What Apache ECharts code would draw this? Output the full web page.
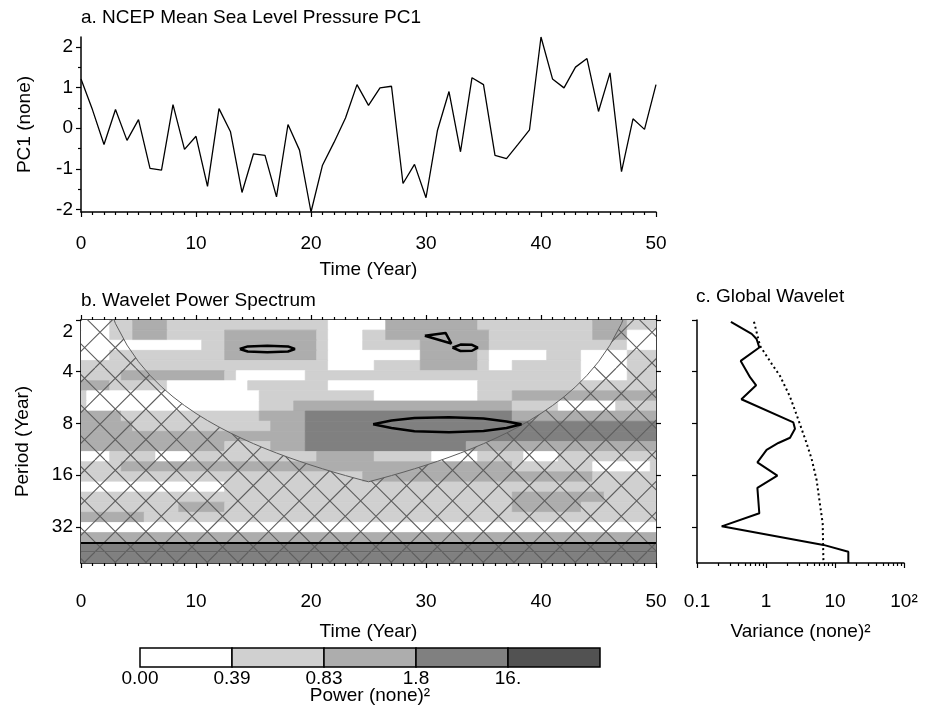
<!DOCTYPE html>
<html>
<head>
<meta charset="utf-8">
<script src="https://cdn.jsdelivr.net/npm/echarts@6/dist/echarts.min.js"></script>
<style>
  html, body { margin: 0; background: #fff; }
  #chart { width: 926px; height: 715px; }
</style>
</head>
<body>
<div id="chart"></div>
<script>
// ---- panel a: PC1 time series (year 0..50)
const pc1 = [1.21, 0.45, -0.40, 0.46, -0.30, 0.21, -0.99, -1.03, 0.58, -0.52,
  -0.20, -1.43, 0.48, -0.09, -1.58, -0.63, -0.67, -1.69, 0.09, -0.54,
  -2.06, -0.91, -0.35, 0.25, 1.07, 0.56, 0.99, 1.03, -1.36, -0.89,
  -1.71, -0.05, 0.90, -0.58, 1.24, 1.07, -0.67, -0.75, -0.40, -0.04,
  2.24, 1.21, 0.99, 1.50, 1.71, 0.41, 1.36, -1.07, 0.23, -0.03, 1.07];
const pc1Ticks = [-2, -1, 0, 1, 2];
const pc1MinorTicks = [-1.5, -0.5, 0.5, 1.5];

// ---- panel b: wavelet power, shaded level per cell
// period band edges (rows, top to bottom)
const periodEdges = [2, 2.291, 2.624, 3.005, 3.442, 3.943, 4.516, 5.172, 5.924, 6.786,
  7.772, 8.902, 10.20, 11.68, 13.38, 15.32, 17.55, 20.10, 23.02, 26.37,
  30.20, 34.59, 39.62, 45.38, 51.98];
// each row: runs of [level, number of years] starting at year 0
const powerRuns = [
  [[0,3],[1,2],[2,3],[1,14],[0,5],[2,8],[1,10],[2,3],[1,3]],
  [[0,3],[1,2],[2,3],[1,5],[2,8],[1,1],[0,3],[1,2],[2,9],[1,9],[2,3],[0,3]],
  [[0,11],[1,2],[2,8],[1,1],[0,3],[1,5],[2,6],[1,12],[0,3]],
  [[0,3],[1,10],[2,8],[1,1],[0,8],[2,5],[1,1],[0,5],[1,3],[0,4],[1,3]],
  [[1,22],[0,4],[1,4],[2,5],[1,1],[0,2],[1,6],[0,4],[1,3]],
  [[1,4],[2,9],[1,1],[0,6],[1,24],[0,4],[1,3]],
  [[2,3],[1,5],[0,7],[1,7],[0,13],[1,16]],
  [[1,1],[0,15],[1,10],[0,9],[1,3],[2,13]],
  [[1,1],[0,15],[1,3],[2,19],[1,4],[0,5],[1,4]],
  [[2,4],[1,12],[2,4],[3,18],[2,13]],
  [[2,5],[1,12],[2,3],[3,31]],
  [[2,20],[3,31]],
  [[2,13],[1,4],[2,3],[3,14],[2,17]],
  [[0,3],[1,4],[0,3],[1,11],[2,5],[1,5],[0,4],[1,4],[0,3],[1,9]],
  [[1,4],[2,34],[1,7],[0,5],[1,1]],
  [[1,25],[2,20],[1,6]],
  [[0,13],[1,38]],
  [[1,38],[2,8],[1,5]],
  [[1,9],[2,4],[1,25],[2,6],[1,7]],
  [[2,6],[1,45]],
  [[0,51]],
  [[2,51]],
  [[3,51]],
  [[3,51]]
];
const levelColors = ['#ffffff', '#d0d0d0', '#adadad', '#808080', '#525252'];
const levelLabels = ['0.00', '0.39', '0.83', '1.8', '16.', ''];

// cone of influence, period for each year 0..50
const coiPeriod = [0.35, 0.7, 1.4, 2.1, 2.8, 3.5, 4.2, 4.9, 5.6, 6.3,
  7.0, 7.7, 8.4, 9.1, 9.8, 10.5, 11.2, 11.9, 12.6, 13.3,
  14.0, 14.7, 15.4, 16.1, 16.8, 17.5, 16.8, 16.1, 15.4, 14.7,
  14.0, 13.3, 12.6, 11.9, 11.2, 10.5, 9.8, 9.1, 8.4, 7.7,
  7.0, 6.3, 5.6, 4.9, 4.2, 3.5, 2.8, 2.1, 1.4, 0.7, 0.35];

// significance contours [year, period]
const contourA = [[13.8,2.95],[14.5,2.85],[16.2,2.82],[18,2.85],[18.6,2.95],[18,3.05],[16.2,3.08],[14.5,3.05],[13.8,2.95]];
const contourB = [[25.4,8.1],[27,7.7],[29,7.45],[32,7.37],[35,7.5],[37,7.8],[38.3,8.1],[37,8.5],[35,8.85],[32,9.0],[29,8.9],[27,8.5],[25.4,8.1]];
const contourC = [[29.9,2.47],[31.7,2.38],[32.2,2.74],[29.9,2.47]];
const contourD = [[32.3,2.9],[33,2.78],[34,2.79],[34.5,2.9],[34,3.02],[33,3.03],[32.3,2.9]];
const contourLow = [[0,39.8],[50,39.8]];
const contourLow2 = [[0,44.6],[50,44.6]];
const periodTicks = [2, 4, 8, 16, 32];

// ---- panel c: global wavelet spectrum [variance, period]
const globalWavelet = [[0.31,2.05],[0.62,2.41],[0.73,2.58],[0.80,2.89],[0.43,3.46],[0.59,4.32],
  [0.72,4.8],[0.44,5.79],[2.49,7.9],[2.63,8.6],[2.23,9.7],[1.51,10.4],[1.02,11.4],
  [0.75,13.5],[1.46,16.1],[0.75,19.0],[0.80,26.7],[0.228,31.8],[6.8,40.8],[15.6,44.7],[15.6,52]];
const globalSignif = [[0.67,2.05],[0.82,2.83],[1.21,3.6],[1.6,4.24],[2.23,5.6],[2.94,7.6],
  [3.8,10.2],[4.59,12.9],[5.43,17.2],[5.73,20.2],[6.63,30.6],[6.8,52]];
const varianceTicks = [0.1, 1, 10, 100];
const varianceMinorTicks = [0.2,0.3,0.4,0.5,0.6,0.7,0.8,0.9,2,3,4,5,6,7,8,9,20,30,40,50,60,70,80,90];

const FONT = "'Liberation Sans', Arial, Helvetica, sans-serif";
const FS = 19;

const cells = [];
powerRuns.forEach((runs, r) => {
  let t = 0;
  runs.forEach(([lvl, n]) => {
    cells.push([t - 0.5, t + n - 0.5, periodEdges[r], periodEdges[r + 1], lvl]);
    t += n;
  });
});

function hatchPattern() {
  const s = 92, d = s / 3;
  const c = document.createElement('canvas');
  c.width = s; c.height = s;
  const g = c.getContext('2d');
  g.strokeStyle = '#5e5e5e';
  g.lineWidth = 1.1;
  g.beginPath();
  for (let k = -7; k <= 7; k++) {
    const o = 13 + k * d;
    g.moveTo(o, 0); g.lineTo(o + s, s);
    const q = 2.9 + k * d;
    g.moveTo(q, 0); g.lineTo(q - s, s);
  }
  g.stroke();
  return c;
}

const tickStyle = { lineStyle: { color: '#000', width: 1.2 } };
const lineStyle = { onZero: false, lineStyle: { color: '#000', width: 1.5 } };
const labelBase = { color: '#000', fontSize: FS, fontFamily: FONT };
const nameBase = { color: '#000', fontSize: FS, fontFamily: FONT };

function contour(data, width, color) {
  return {
    type: 'line', xAxisIndex: 1, yAxisIndex: 2, data: data, symbol: 'none',
    lineStyle: { color: color || '#000', width: width }, clip: true, z: 5
  };
}

const chart = echarts.init(document.getElementById('chart'), null, { renderer: 'canvas' });
chart.setOption({
  animation: false,
  backgroundColor: '#fff',
  title: [
    { text: 'a. NCEP Mean Sea Level Pressure PC1', left: 81, top: 8, padding: 0,
      textStyle: { fontSize: FS, fontWeight: 'normal', color: '#000', fontFamily: FONT } },
    { text: 'b. Wavelet Power Spectrum', left: 81, top: 291, padding: 0,
      textStyle: { fontSize: FS, fontWeight: 'normal', color: '#000', fontFamily: FONT } },
    { text: 'c. Global Wavelet', left: 696, top: 287, padding: 0,
      textStyle: { fontSize: FS, fontWeight: 'normal', color: '#000', fontFamily: FONT } }
  ],
  grid: [
    { left: 81, top: 37, width: 575, height: 175, outerBoundsMode: 'none' },
    { left: 81, top: 320, width: 575, height: 243, outerBoundsMode: 'none' },
    { left: 697, top: 320, width: 207, height: 243, outerBoundsMode: 'none' },
    { left: 140, top: 648, width: 460, height: 19, outerBoundsMode: 'none' }
  ],
  xAxis: [
    { gridIndex: 0, type: 'value', position: 'bottom', min: 0, max: 50, interval: 10,
      axisLine: lineStyle, axisTick: Object.assign({ length: 5 }, tickStyle),
      minorTick: { show: true, splitNumber: 10, length: 3, lineStyle: { color: '#000', width: 1.2 } },
      splitLine: { show: false },
      axisLabel: Object.assign({ margin: 22 }, labelBase),
      name: 'Time (Year)', nameLocation: 'middle', nameGap: 48, nameTextStyle: nameBase, nameMoveOverlap: false },
    { gridIndex: 1, type: 'value', position: 'bottom', min: 0, max: 50, interval: 10,
      axisLine: lineStyle, axisTick: Object.assign({ length: 5 }, tickStyle),
      minorTick: { show: true, splitNumber: 10, length: 3, lineStyle: { color: '#000', width: 1.2 } },
      splitLine: { show: false },
      axisLabel: Object.assign({ margin: 29 }, labelBase),
      name: 'Time (Year)', nameLocation: 'middle', nameGap: 59, nameTextStyle: nameBase, nameMoveOverlap: false },
    { gridIndex: 1, type: 'value', position: 'top', min: 0, max: 50, interval: 10,
      axisLine: lineStyle, axisTick: Object.assign({ length: 5 }, tickStyle),
      minorTick: { show: true, splitNumber: 10, length: 3, lineStyle: { color: '#000', width: 1.2 } },
      splitLine: { show: false }, axisLabel: { show: false } },
    { gridIndex: 2, type: 'log', logBase: 10, position: 'bottom', min: 0.1, max: 100,
      axisLine: lineStyle,
      axisTick: Object.assign({ length: 5, customValues: varianceTicks }, tickStyle),
      splitLine: { show: false },
      axisLabel: Object.assign({ margin: 29, customValues: varianceTicks,
        formatter: v => (v >= 99 ? '10\u00b2' : (v < 0.5 ? '0.1' : String(Math.round(v)))) }, labelBase),
      name: 'Variance (none)\u00b2', nameLocation: 'middle', nameGap: 59, nameTextStyle: nameBase, nameMoveOverlap: false },
    { gridIndex: 2, type: 'log', logBase: 10, position: 'bottom', offset: 0, min: 0.1, max: 100,
      axisLine: { show: false, onZero: false },
      axisTick: Object.assign({ length: 3, customValues: varianceMinorTicks }, tickStyle),
      splitLine: { show: false }, axisLabel: { show: false } },
    { gridIndex: 3, type: 'value', position: 'bottom', min: 0, max: 5, interval: 1,
      axisLine: { show: false, onZero: false }, axisTick: { show: false }, splitLine: { show: false },
      axisLabel: Object.assign({ margin: 2, formatter: v => levelLabels[Math.round(v)] }, labelBase),
      name: 'Power (none)\u00b2', nameLocation: 'middle', nameGap: 19, nameTextStyle: nameBase, nameMoveOverlap: false }
  ],
  yAxis: [
    { gridIndex: 0, type: 'value', position: 'left', min: -2.06, max: 2.24,
      axisLine: Object.assign({ show: true }, lineStyle),
      axisTick: Object.assign({ show: true, length: 5, customValues: pc1Ticks }, tickStyle),
      splitLine: { show: false },
      axisLabel: Object.assign({ margin: 8, customValues: pc1Ticks }, labelBase),
      name: 'PC1 (none)', nameLocation: 'middle', nameGap: 47, nameTextStyle: nameBase, nameMoveOverlap: false },
    { gridIndex: 0, type: 'value', position: 'left', offset: 0, min: -2.06, max: 2.24,
      axisLine: { show: false, onZero: false },
      axisTick: Object.assign({ show: true, length: 3, customValues: pc1MinorTicks }, tickStyle),
      splitLine: { show: false }, axisLabel: { show: false } },
    { gridIndex: 1, type: 'log', logBase: 2, position: 'left', min: 2, max: 52, inverse: true,
      axisLine: Object.assign({ show: true }, lineStyle),
      axisTick: Object.assign({ show: true, length: 5, customValues: periodTicks }, tickStyle),
      splitLine: { show: false },
      axisLabel: Object.assign({ margin: 8, customValues: periodTicks,
        formatter: v => (Math.round(v) === 2 ? '{low|2}' : String(Math.round(v))),
        rich: { low: { fontSize: FS, fontFamily: FONT, color: '#000', padding: [24, 0, 0, 0] } } }, labelBase),
      name: 'Period (Year)', nameLocation: 'middle', nameGap: 49, nameTextStyle: nameBase, nameMoveOverlap: false },
    { gridIndex: 1, type: 'log', logBase: 2, min: 2, max: 52, inverse: true, position: 'right',
      axisLine: Object.assign({ show: true }, lineStyle),
      axisTick: Object.assign({ show: true, length: 5, customValues: periodTicks }, tickStyle),
      splitLine: { show: false }, axisLabel: { show: false } },
    { gridIndex: 2, type: 'log', logBase: 2, position: 'left', min: 2, max: 52, inverse: true,
      axisLine: Object.assign({ show: true }, lineStyle),
      axisTick: Object.assign({ show: true, length: 5, customValues: periodTicks }, tickStyle),
      splitLine: { show: false }, axisLabel: { show: false } },
    { gridIndex: 3, type: 'value', min: 0, max: 1, show: false }
  ],
  series: [
    { type: 'line', xAxisIndex: 0, yAxisIndex: 0, symbol: 'none',
      data: pc1.map((v, i) => [i, v]), lineStyle: { color: '#000', width: 1.3 } },
    { type: 'custom', xAxisIndex: 1, yAxisIndex: 2, clip: true, data: cells,
      encode: { x: [0, 1], y: [2, 3] },
      renderItem: (params, api) => {
        const a = api.coord([api.value(0), api.value(2)]);
        const b = api.coord([api.value(1), api.value(3)]);
        const col = levelColors[api.value(4)];
        return { type: 'rect',
          shape: { x: a[0], y: Math.min(a[1], b[1]), width: b[0] - a[0], height: Math.abs(b[1] - a[1]) },
          style: { fill: col, stroke: col, lineWidth: 0.8 } };
      } },
    { type: 'line', xAxisIndex: 1, yAxisIndex: 2, symbol: 'none', clip: true, z: 4,
      data: coiPeriod.map((p, i) => [i, p]),
      lineStyle: { color: '#5e5e5e', width: 1 },
      areaStyle: { origin: 'end', opacity: 1, color: { image: hatchPattern(), repeat: 'repeat' } } },
    contour(contourA, 2.5),
    contour(contourB, 2.5),
    contour(contourC, 2.5),
    contour(contourD, 2.5),
    contour(contourLow, 2),
    contour(contourLow2, 1, '#666'),
    { type: 'line', xAxisIndex: 3, yAxisIndex: 4, symbol: 'none', clip: true,
      data: globalWavelet, lineStyle: { color: '#000', width: 2 } },
    { type: 'line', xAxisIndex: 3, yAxisIndex: 4, symbol: 'none', clip: true,
      data: globalSignif, lineStyle: { color: '#000', width: 2, type: [2, 3] } },
    { type: 'custom', xAxisIndex: 5, yAxisIndex: 5,
      data: levelColors.map((c, i) => [i, i + 1, i]),
      encode: { x: [0, 1] },
      renderItem: (params, api) => {
        const a = api.coord([api.value(0), 1]);
        const b = api.coord([api.value(1), 0]);
        return { type: 'rect',
          shape: { x: a[0], y: a[1], width: b[0] - a[0], height: b[1] - a[1] },
          style: { fill: levelColors[api.value(2)], stroke: '#000', lineWidth: 1.5 } };
      } }
  ]
});
</script>
</body>
</html>
